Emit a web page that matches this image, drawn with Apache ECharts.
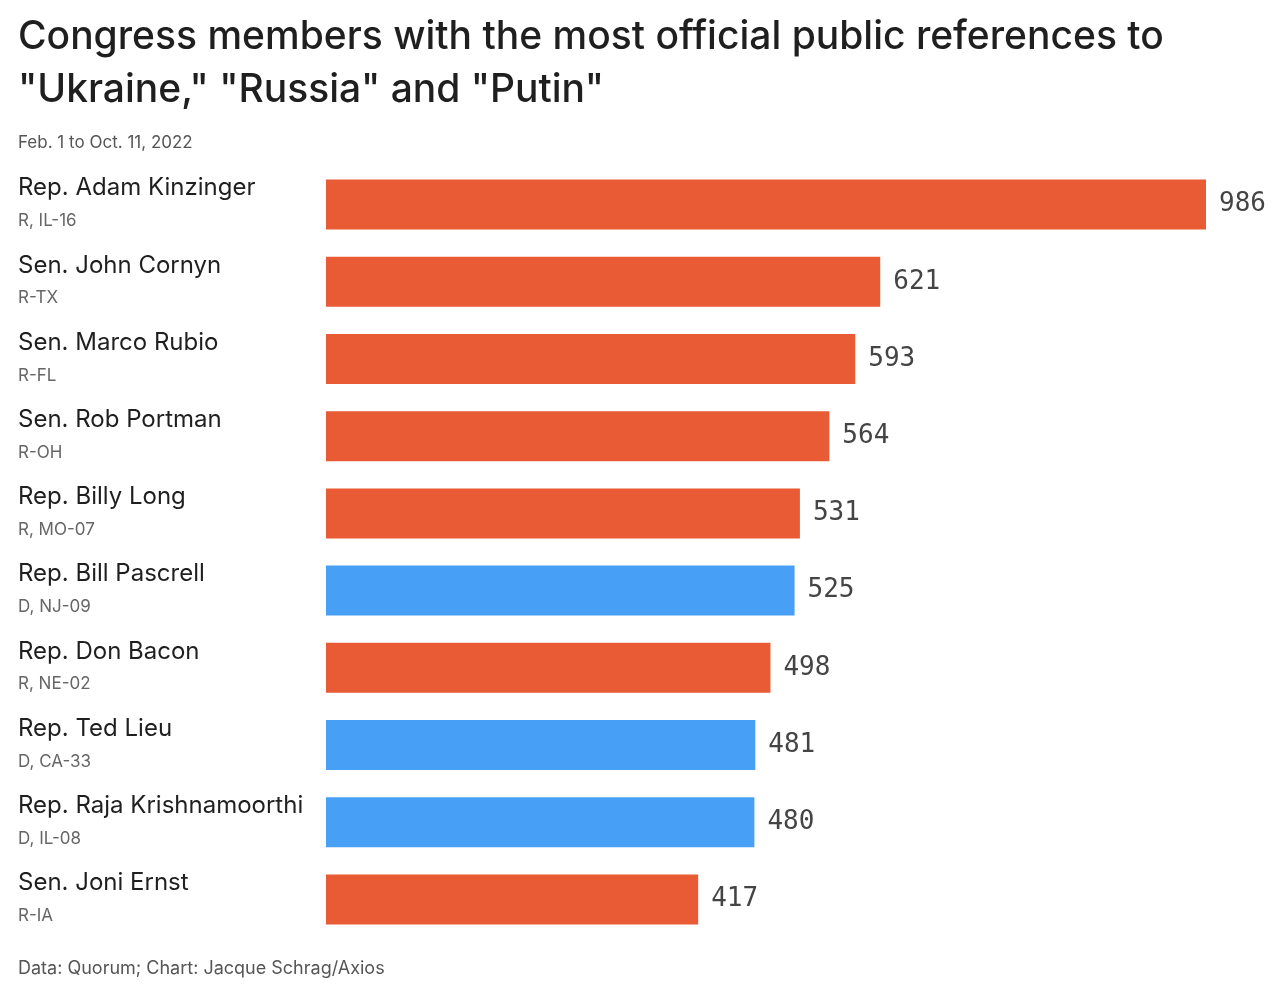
<!DOCTYPE html>
<html>
<head>
<meta charset="utf-8">
<script src="https://cdn.jsdelivr.net/npm/echarts@6/dist/echarts.min.js"></script>
<style>
html,body{margin:0;padding:0;background:#fff;}
#c{width:1280px;height:997px;}
</style>
</head>
<body>
<div id="c"></div>
<script>
const names = ["Rep. Adam Kinzinger","Sen. John Cornyn","Sen. Marco Rubio","Sen. Rob Portman","Rep. Billy Long","Rep. Bill Pascrell","Rep. Don Bacon","Rep. Ted Lieu","Rep. Raja Krishnamoorthi","Sen. Joni Ernst"];
const districts = ["R, IL-16","R-TX","R-FL","R-OH","R, MO-07","D, NJ-09","R, NE-02","D, CA-33","D, IL-08","R-IA"];
const values = [986,621,593,564,531,525,498,481,480,417];
const parties = ["R","R","R","R","R","D","R","D","D","R"];
const partyColors = {R:"#E95B35", D:"#489FF6"};

const chart = echarts.init(document.getElementById('c'));
const cats = names.map((n,i)=>i);
chart.setOption({
  backgroundColor:'#fff',
  animation:false,
  title:[{
    text:'Congress members with the most official public references to\n"Ukraine," "Russia" and "Putin"',
    left:13, top:6,
    textStyle:{fontFamily:'Inter',fontSize:39,fontWeight:500,color:'#1f1f1f',lineHeight:53}
  },{
    text:'Feb. 1 to Oct. 11, 2022',
    left:13, top:128,
    textStyle:{fontFamily:'Inter',fontSize:17,fontWeight:400,color:'#555',lineHeight:20}
  },{
    text:'Data: Quorum; Chart: Jacque Schrag/Axios',
    left:13, top:954,
    textStyle:{fontFamily:'Inter',fontSize:18,fontWeight:400,color:'#555',lineHeight:20}
  }],
  grid:{left:326,right:74,top:166,height:772},
  xAxis:{type:'value',min:0,max:986,show:false},
  yAxis:{
    type:'category',inverse:true,data:cats,
    axisLine:{show:false},axisTick:{show:false},
    axisLabel:{
      align:'left',margin:308,
      formatter:function(v){return '{n|'+names[v]+'}\n{d|'+districts[v]+'}';},
      rich:{
        n:{fontFamily:'Inter',fontSize:24,color:'#1f1f1f',lineHeight:33},
        d:{fontFamily:'Inter',fontSize:17,color:'#666',lineHeight:33}
      }
    }
  },
  series:[{
    type:'bar',
    data:values.map((v,i)=>({value:v,itemStyle:{color:partyColors[parties[i]]}})),
    barWidth:50,
    label:{show:true,position:'right',distance:13,fontFamily:'DejaVu Sans Mono',fontSize:26,color:'#444'}
  }]
});
</script>
</body>
</html>
